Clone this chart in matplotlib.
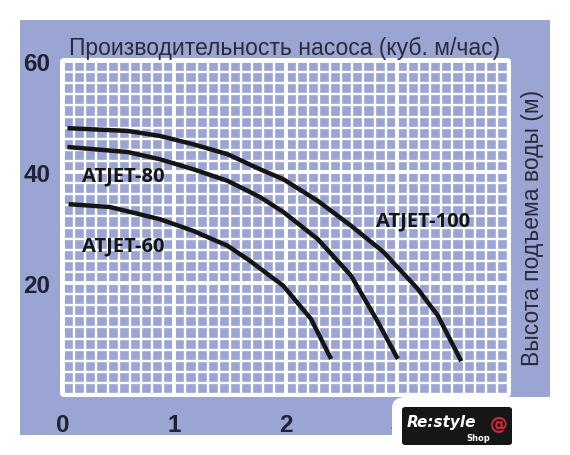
import matplotlib
matplotlib.use("Agg")
import matplotlib.pyplot as plt
from matplotlib.patches import FancyBboxPatch, Rectangle
from matplotlib.ticker import MultipleLocator

# ---- data ----
title = "Производительность насоса (куб. м/час)"
ylabel = "Высота подъема воды (м)"
x_ticks = [0, 1, 2, 3]
x_tick_labels = ["0", "1", "2", "3"]
y_ticks = [20, 40, 60]
y_tick_labels = ["20", "40", "60"]

atjet100_q = [0.04, 0.58, 0.87, 1.17, 1.48, 1.77, 1.98, 2.29, 2.59, 2.88, 3.19, 3.37, 3.58]
atjet100_h = [47.9, 47.4, 46.5, 45.0, 43.2, 40.5, 38.7, 34.8, 30.3, 25.6, 18.9, 14.1, 5.9]
atjet80_q = [0.04, 0.58, 0.87, 1.17, 1.48, 1.77, 1.98, 2.29, 2.59, 2.83, 3.01]
atjet80_h = [44.5, 43.6, 42.3, 40.5, 38.4, 35.5, 32.8, 27.9, 21.3, 13.0, 6.3]
atjet60_q = [0.05, 0.42, 0.87, 1.17, 1.48, 1.68, 1.98, 2.23, 2.41]
atjet60_h = [34.2, 33.7, 31.5, 29.4, 26.7, 24.0, 19.5, 13.5, 6.3]

series = [
    ("ATJET-100", atjet100_q, atjet100_h, (2.81, 31.2)),
    ("ATJET-80", atjet80_q, atjet80_h, (0.17, 39.3)),
    ("ATJET-60", atjet60_q, atjet60_h, (0.17, 26.7)),
]

# ---- layout ----
W, H = 570, 456
LAV = "#9ba5d4"
TXT = "#1f2233"

fig = plt.figure(figsize=(W / 100, H / 100), dpi=100)
fig.patch.set_facecolor("white")

def fx(px):
    return px / W

def fy(py):
    return 1 - py / H

# lavender panel
fig.patches.append(Rectangle((fx(20), fy(436)), fx(550) - fx(20), fy(21) - fy(436),
                             transform=fig.transFigure, facecolor=LAV, edgecolor="none", zorder=-3))
# white rounded frame of grid
fig.patches.append(FancyBboxPatch((fx(60), fy(398)), fx(511) - fx(60), fy(59) - fy(398),
                                  boxstyle="round,pad=0,rounding_size=0.008",
                                  transform=fig.transFigure, facecolor="white", edgecolor="none", zorder=-2))

ax = fig.add_axes([fx(63), fy(395), fx(508) - fx(63), fy(62) - fy(395)])
ax.set_facecolor(LAV)
ax.set_xlim(0, 4)
ax.set_ylim(0, 60)
ax.xaxis.set_minor_locator(MultipleLocator(0.1))
ax.yaxis.set_minor_locator(MultipleLocator(2))
ax.grid(which="minor", color="white", linewidth=1.7)
ax.grid(which="major", color="white", linewidth=2.8)
ax.set_axisbelow(True)
for s in ax.spines.values():
    s.set_visible(False)

ax.set_xticks(x_ticks)
ax.set_xticklabels(x_tick_labels)
ax.set_yticks(y_ticks)
ax.set_yticklabels(y_tick_labels)
ax.tick_params(which="both", length=0)
ax.tick_params(axis="x", pad=14)
ax.tick_params(axis="y", pad=9)
for lab in ax.get_xticklabels() + ax.get_yticklabels():
    lab.set_fontfamily("Liberation Sans")
    lab.set_fontweight("bold")
    lab.set_fontsize(17.5)
    lab.set_color(TXT)

for name, q, h, (lx, ly) in series:
    ax.plot(q, h, color="#151515", linewidth=3.2, solid_capstyle="butt",
            solid_joinstyle="round", zorder=3)
    ax.text(lx, ly, name, fontfamily="Open Sans", fontweight="bold", fontsize=14.5,
            color="#151515", va="center", ha="left", zorder=4)

fig.text(fx(285), fy(55), title, ha="center", va="baseline",
         fontfamily="Liberation Sans", fontsize=16.5, color="#2a2a38")
fig.text(fx(532), fy(228), ylabel, ha="center", va="center", rotation=90,
         fontfamily="Liberation Sans", fontsize=16.5, color="#2a2a38")

# white cutout with logo (bottom right)
fig.patches.append(Rectangle((fx(404), fy(456)), fx(570) - fx(404), fy(398) - fy(456),
                             transform=fig.transFigure, facecolor="white", edgecolor="none", zorder=5))
fig.patches.append(FancyBboxPatch((fx(392), fy(456)), fx(460) - fx(392), fy(398) - fy(456),
                                  boxstyle="round,pad=0,rounding_size=0.025",
                                  transform=fig.transFigure, facecolor="white", edgecolor="none", zorder=5))
fig.patches.append(FancyBboxPatch((fx(402), fy(446)), fx(512) - fx(402), fy(408) - fy(446),
                                  boxstyle="round,pad=0,rounding_size=0.006",
                                  transform=fig.transFigure, facecolor="#161616", edgecolor="none", zorder=6))
fig.text(fx(407), fy(423), "Re:style", ha="left", va="center", fontfamily="DejaVu Sans",
         fontstyle="italic", fontweight="bold", fontsize=11, color="white", zorder=7)
fig.text(fx(499), fy(425), "@", ha="center", va="center", fontfamily="DejaVu Sans",
         fontweight="bold", fontsize=13, color="#d8283a", zorder=7)
fig.text(fx(478), fy(439), "Shop", ha="center", va="center", fontfamily="DejaVu Sans",
         fontweight="bold", fontsize=6, color="white", zorder=7)

fig.savefig("out.png", dpi=100)
